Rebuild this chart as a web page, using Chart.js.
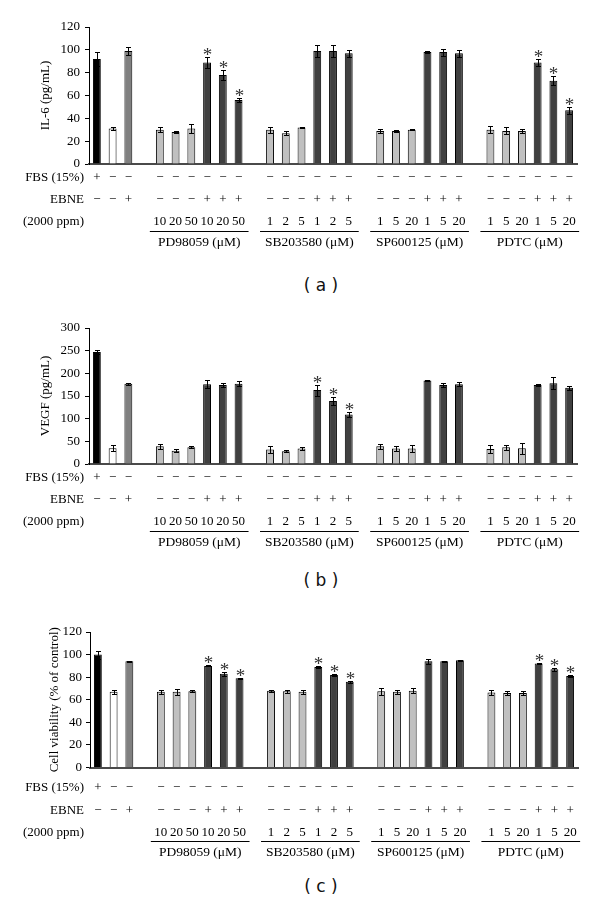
<!DOCTYPE html>
<html>
<head>
<meta charset="utf-8">
<script src="https://cdn.jsdelivr.net/npm/chart.js@4.4.0/dist/chart.umd.min.js"></script>
<style>
  body { margin: 0; background: #fff; width: 600px; height: 911px; position: relative; overflow: hidden; }
  canvas { position: absolute; left: 0; }
  .cap { position: absolute; left: 0; width: 642px; text-align: center; font: 17px "DejaVu Sans"; line-height: 20px; color: #111; }
</style>
</head>
<body>
<canvas id="chartA" width="600" height="260" style="top:0"></canvas>
<div class="cap" style="top:275px">( a )</div>
<canvas id="chartB" width="600" height="260" style="top:300px"></canvas>
<div class="cap" style="top:570px">( b )</div>
<canvas id="chartC" width="600" height="270" style="top:600px"></canvas>
<div class="cap" style="top:876px">( c )</div>

<script>
// groups of inhibitors, 6 bars each (3 alone, 3 with EBNE)
const groupNames = ['PD98059 (\u03bcM)', 'SB203580 (\u03bcM)', 'SP600125 (\u03bcM)', 'PDTC (\u03bcM)'];
const groupDoses = [
  ['10', '20', '50', '10', '20', '50'],
  ['1', '2', '5', '1', '2', '5'],
  ['1', '5', '20', '1', '5', '20'],
  ['1', '5', '20', '1', '5', '20']
];
const M = '\u2212';
const fbsSigns = ['+', M, M].concat(Array(24).fill(M));
const ebneSigns = [M, M, '+'].concat(...groupNames.map(() => [M, M, M, '+', '+', '+']));
const doseLabels = ['', '', ''].concat(...groupDoses);
const rowHeaders = ['FBS (15%)', 'EBNE', '(2000 ppm)'];

// IL-6 (pg/mL)
const il6Values = [92, 31, 99, 30, 28, 31, 89, 78, 56, 30, 27, 32, 99, 99, 97, 29, 29, 30, 98, 98, 97, 30, 29, 29, 89, 73, 47];
const il6Errors = [6, 1, 3.5, 2, 0.5, 4, 4.5, 4.5, 2, 2.5, 1.5, 0.5, 5, 5, 3, 1.5, 1, 0.5, 1, 3, 3, 3, 3, 2, 3, 4, 3];
const il6Stars = [6, 7, 8, 24, 25, 26];

// VEGF (pg/mL)
const vegfValues = [247, 35, 177, 39, 29, 37, 176, 174, 177, 32, 28, 34, 163, 139, 109, 39, 34, 34, 184, 174, 176, 33, 37, 35, 174, 178, 168];
const vegfErrors = [5, 7, 2, 6, 3, 2, 9, 5, 6, 7, 2, 4, 12, 8, 5, 5, 5, 7, 1, 5, 4, 8, 6, 12, 2, 13, 5];
const vegfStars = [12, 13, 14];

// Cell viability (% of control)
const cellValues = [100, 67, 94, 67, 67, 67.5, 90, 83, 79, 68, 67.5, 67, 89, 82, 76, 67.5, 67, 68, 94, 94, 95, 66.5, 66, 66, 92, 87, 81];
const cellErrors = [3.5, 1.5, 0.5, 2, 2.5, 1, 0.5, 2, 0.5, 1, 1.5, 2, 0.5, 1, 1, 3, 2, 2, 2, 0.5, 0.5, 2, 2, 2, 0.5, 1.5, 0.5];
const cellStars = [6, 7, 8, 12, 13, 14, 24, 25, 26];

const barColors = ['#000000', '#ffffff', '#808080'].concat(
  ...groupNames.map(() => ['#c0c0c0', '#c0c0c0', '#c0c0c0', '#404040', '#404040', '#404040'])
);

// an empty slot follows bar 2, 8, 14 and 20
const gapAfter = [2, 8, 14, 20];
function toSlots(arr, fill) {
  const out = [];
  arr.forEach((v, i) => {
    out.push(v);
    if (gapAfter.includes(i)) out.push(fill);
  });
  return out;
}

const slotLabels = toSlots(fbsSigns.map((f, i) => [f, ebneSigns[i], doseLabels[i]]), ['', '', '']);
const LINE_H = 22.4;

const extras = {
  id: 'extras',
  afterDatasetsDraw(chart, args, opts) {
    const ctx = chart.ctx;
    const yScale = chart.scales.y;
    const meta = chart.getDatasetMeta(0);
    const vals = chart.data.datasets[0].data;
    const errs = toSlots(opts.errors, null);
    const stars = toSlots(opts.errors.map((e, i) => opts.stars.includes(i)), false);
    ctx.save();
    ctx.strokeStyle = '#000';
    ctx.lineWidth = 1;
    ctx.fillStyle = '#333';
    ctx.font = '19px "Liberation Serif"';
    ctx.textAlign = 'center';
    ctx.textBaseline = 'alphabetic';
    meta.data.forEach((bar, i) => {
      const v = vals[i];
      if (v == null) return;
      const e = errs[i];
      const top = Math.round(yScale.getPixelForValue(v + e)) + 0.5;
      const bot = Math.round(yScale.getPixelForValue(v - e)) + 0.5;
      const cx = Math.round(bar.x) + 0.5;
      ctx.beginPath();
      ctx.moveTo(cx, top); ctx.lineTo(cx, bot);
      ctx.moveTo(cx - 2.5, top); ctx.lineTo(cx + 2.5, top);
      ctx.moveTo(cx - 2.5, bot); ctx.lineTo(cx + 2.5, bot);
      ctx.stroke();
      if (stars[i]) ctx.fillText('*', cx, top + 3);
    });
    ctx.restore();
  },
  afterDraw(chart, args, opts) {
    const ctx = chart.ctx;
    const xScale = chart.scales.x;
    const rowY = (r) => xScale.top + opts.pad + LINE_H * (r + 0.5);
    ctx.save();
    ctx.fillStyle = '#000';
    ctx.font = '13px "Liberation Serif"';
    ctx.textAlign = 'right';
    ctx.textBaseline = 'middle';
    rowHeaders.forEach((t, r) => ctx.fillText(t, 84, rowY(r)));
    ctx.textAlign = 'center';
    ctx.font = '13.5px "Liberation Serif"';
    ctx.strokeStyle = '#000';
    ctx.lineWidth = 1;
    groupNames.forEach((name, g) => {
      const x0 = xScale.getPixelForValue(4 + 7 * g) - 10;
      const x1 = xScale.getPixelForValue(9 + 7 * g) + 10;
      const ly = Math.round(rowY(2) + 8.5) + 0.5;
      ctx.beginPath();
      ctx.moveTo(x0, ly); ctx.lineTo(x1, ly);
      ctx.stroke();
      ctx.fillText(name, (x0 + x1) / 2, rowY(2) + 20);
    });
    ctx.restore();
  }
};

function makePanel(id, cfg) {
  return new Chart(document.getElementById(id), {
    type: 'bar',
    data: {
      labels: slotLabels,
      datasets: [{
        data: toSlots(cfg.values, null),
        backgroundColor: toSlots(barColors, 'rgba(0,0,0,0)'),
        borderColor: '#000',
        borderWidth: 1,
        barPercentage: 0.5,
        categoryPercentage: 1
      }]
    },
    options: {
      responsive: false,
      animation: false,
      layout: { padding: { left: cfg.left, right: cfg.right, top: cfg.top, bottom: 0 } },
      plugins: {
        legend: { display: false },
        tooltip: { enabled: false },
        extras: { errors: cfg.errors, stars: cfg.stars, pad: cfg.tickPad }
      },
      scales: {
        x: {
          grid: { display: false, drawTicks: false },
          border: { color: '#4a4a4a', width: 2 },
          ticks: {
            autoSkip: false, maxRotation: 0, padding: cfg.tickPad, color: '#000',
            font: { family: 'Liberation Serif', size: 13, lineHeight: LINE_H + 'px' }
          },
          afterFit: (s) => { s.height = cfg.xHeight; }
        },
        y: {
          min: 0, max: cfg.max,
          ticks: { stepSize: cfg.step, padding: cfg.yPad, color: '#000', font: { family: 'Liberation Serif', size: 13 } },
          grid: { drawOnChartArea: false, tickLength: 4, color: '#000' },
          border: { color: '#000', width: 1 },
          title: { display: true, text: cfg.title, padding: 0, color: '#000', font: { family: 'Liberation Serif', size: 13 } },
          afterFit: (s) => { s.width = cfg.yWidth; }
        }
      }
    },
    plugins: [extras]
  });
}

makePanel('chartA', {
  values: il6Values, errors: il6Errors, stars: il6Stars, max: 120, step: 20, title: 'IL-6 (pg/mL)',
  left: 38, yWidth: 51, right: 23, top: 27, xHeight: 96, tickPad: 2, yPad: 5
});
makePanel('chartB', {
  values: vegfValues, errors: vegfErrors, stars: vegfStars, max: 300, step: 50, title: 'VEGF (pg/mL)',
  left: 38, yWidth: 51, right: 23, top: 28, xHeight: 96, tickPad: 2, yPad: 5
});
makePanel('chartC', {
  values: cellValues, errors: cellErrors, stars: cellStars, max: 120, step: 20, title: 'Cell viability (% of control)',
  left: 47, yWidth: 43, right: 22, top: 32, xHeight: 102.5, tickPad: 9, yPad: 4
});
</script>
</body>
</html>
